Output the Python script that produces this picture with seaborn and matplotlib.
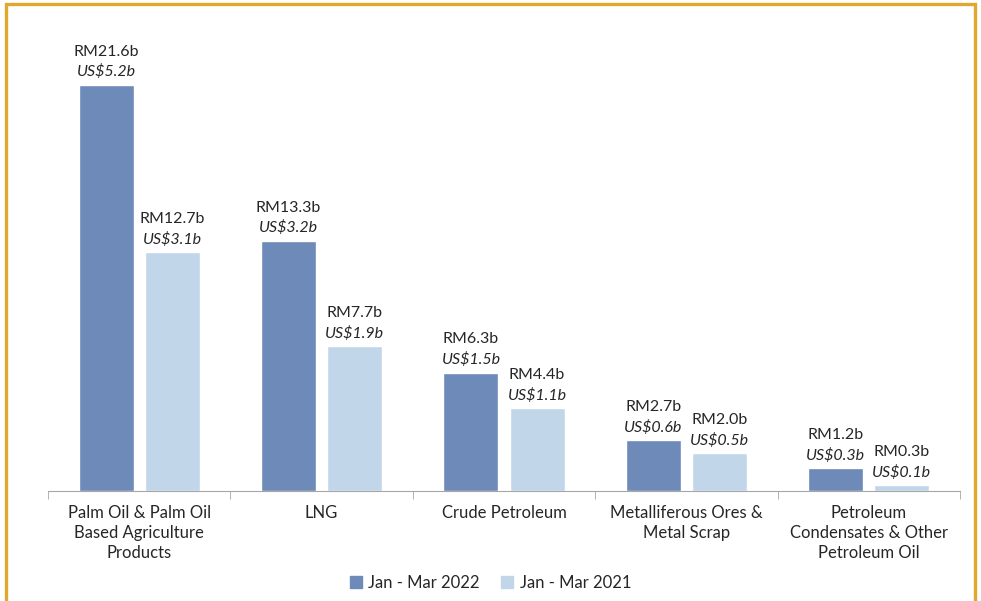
import seaborn as sns
import matplotlib.pyplot as plt
import pandas as pd
from matplotlib.patches import Rectangle
from matplotlib.ticker import FixedLocator

# Top export products, Jan - Mar 2022 vs Jan - Mar 2021
categories = ["Palm Oil & Palm Oil\nBased Agriculture\nProducts", "LNG", "Crude Petroleum",
              "Metalliferous Ores &\nMetal Scrap", "Petroleum\nCondensates & Other\nPetroleum Oil"]
series_names = ["Jan - Mar 2022", "Jan - Mar 2021"]
rm_2022 = [21.6, 13.3, 6.3, 2.7, 1.2]
rm_2021 = [12.7, 7.7, 4.4, 2.0, 0.3]
us_2022 = [5.2, 3.2, 1.5, 0.6, 0.3]
us_2021 = [3.1, 1.9, 1.1, 0.5, 0.1]
colors = ["#6D8AB8", "#C2D6EA"]

df = pd.DataFrame({
    "product": categories * 2,
    "period": [series_names[0]] * 5 + [series_names[1]] * 5,
    "value": rm_2022 + rm_2021,
})

sns.set_style("white")
plt.rcParams["font.family"] = ["Lato", "DejaVu Sans"]

fig = plt.figure(figsize=(9.81, 6.01), dpi=100)
ax = fig.add_axes([0.0489, 0.183, 0.9297, 0.782])

sns.barplot(data=df, x="product", y="value", hue="period", palette=colors,
            width=0.724, gap=0.167, saturation=1, ax=ax, legend=False)

ax.set_ylim(0, 25)
ax.set_xlim(-0.5, 4.5)
ax.set_xlabel("")
ax.set_ylabel("")
ax.set_yticks([])
for s in ["top", "right", "left"]:
    ax.spines[s].set_visible(False)
ax.spines["bottom"].set_color("#A6A6A6")
ax.tick_params(axis="x", which="major", length=0, pad=10, labelsize=12, labelcolor="#262626")
for lbl in ax.get_xticklabels():
    lbl.set_linespacing(1.3)
ax.xaxis.set_minor_locator(FixedLocator([-0.5, 0.5, 1.5, 2.5, 3.5, 4.5]))
ax.tick_params(axis="x", which="minor", length=6, color="#A6A6A6", direction="out")
ax.xaxis.set_tick_params(which="minor", bottom=True)

# value labels: RM on top line, US$ in italic below
for cont, rm_vals, us_vals in zip(ax.containers, [rm_2022, rm_2021], [us_2022, us_2021]):
    for bar, rm, us in zip(cont, rm_vals, us_vals):
        x = bar.get_x() + bar.get_width() / 2
        h = bar.get_height()
        ax.annotate(f"US${us}b", (x, h), xytext=(0, 4), textcoords="offset points",
                    ha="center", va="bottom", fontsize=11.5, style="italic", color="#262626")
        ax.annotate(f"RM{rm}b", (x, h), xytext=(0, 19), textcoords="offset points",
                    ha="center", va="bottom", fontsize=11.5, color="#262626")

handles = [Rectangle((0, 0), 1, 1, color=c) for c in colors]
fig.legend(handles, series_names, loc="center", bbox_to_anchor=(0.5, 0.03), ncol=2,
           frameon=False, fontsize=12, handlelength=0.7, handleheight=0.7,
           handletextpad=0.4, columnspacing=1.3)

# golden frame around the chart
fig.patches.append(Rectangle((5.5 / 981, -0.05), 969 / 981, 1 - 4.5 / 601 + 0.05,
                             transform=fig.transFigure, fill=False, edgecolor="#E0A82E",
                             linewidth=2.4, clip_on=False))

fig.savefig("out.png", dpi=100)
